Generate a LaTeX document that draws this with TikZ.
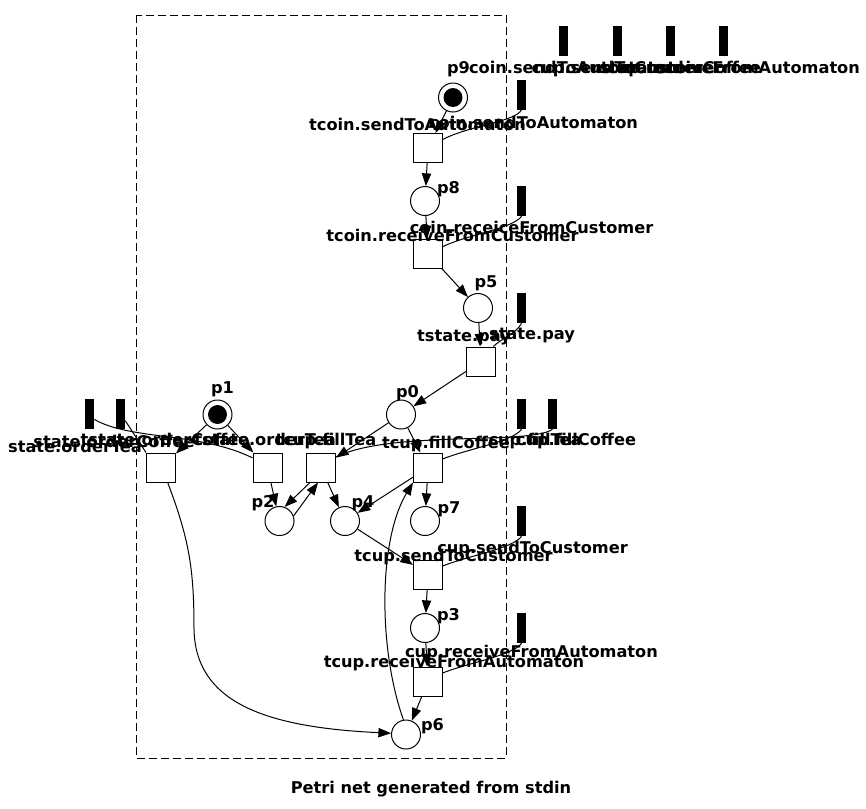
\documentclass[tikz,border=0pt]{standalone}
\usepackage{fontspec}
\setsansfont{DejaVu Sans}
\usetikzlibrary{arrows.meta}
\begin{document}
\begin{tikzpicture}[x=0.75pt,y=-0.75pt,
  place/.style={draw,circle,minimum size=21.75pt,inner sep=0pt,line width=0.75pt},
  trans/.style={draw,rectangle,minimum size=21.75pt,inner sep=0pt,line width=0.75pt},
  iface/.style={fill=black,minimum width=6.75pt,minimum height=22.5pt,inner sep=0pt},
  lbl/.style={font=\sffamily\bfseries\fontsize{12.15}{14}\selectfont,inner sep=0pt,anchor=base},
  arc/.style={line width=0.75pt,-{Triangle[length=9.5pt,width=7pt]}},
  link/.style={line width=0.75pt}]
\useasboundingbox (0,0) rectangle (866,808);
\draw[dash pattern=on 6pt off 3pt,line width=0.75pt] (136,15) rectangle (506,758);
% places
\node[place] (p9) at (453,97.5) {};
\node[place] (p8) at (425,201) {};
\node[place] (p5) at (478,308) {};
\node[place] (p0) at (401,414.5) {};
\node[place] (p1) at (217.5,414.5) {};
\node[place] (p2) at (279.5,521) {};
\node[place] (p4) at (345,521) {};
\node[place] (p7) at (425,521) {};
\node[place] (p3) at (425,628) {};
\node[place] (p6) at (406,734.5) {};
\fill (p9) circle[radius=7.1pt];
\fill (p1) circle[radius=7.1pt];
% transitions
\node[trans] (tcoinsend) at (428,148) {};
\node[trans] (tcoinrecv) at (428,253.5) {};
\node[trans] (tpay) at (481,361.5) {};
\node[trans] (tordercoffee) at (161,467.5) {};
\node[trans] (tordertea) at (267.5,467.5) {};
\node[trans] (tfilltea) at (321,467.5) {};
\node[trans] (tfillcoffee) at (428,467.5) {};
\node[trans] (tcupsend) at (428,574.5) {};
\node[trans] (tcuprecv) at (428,681.5) {};
% interface places
\node[iface] (bfree1) at (563.5,41) {};
\node[iface] (bfree2) at (617,41) {};
\node[iface] (bfree3) at (670.5,41) {};
\node[iface] (bfree4) at (723.5,41) {};
\node[iface] (bcoinsend) at (521.5,94.5) {};
\node[iface] (bcoinrecv) at (521.5,201) {};
\node[iface] (bpay) at (521.5,308) {};
\node[iface] (bfilltea) at (521.5,414) {};
\node[iface] (bfillcoffee) at (552.5,414) {};
\node[iface] (bcupsend) at (521.5,521) {};
\node[iface] (bcuprecv) at (521.5,628) {};
\node[iface] (bordertea) at (89.5,414) {};
\node[iface] (bordercoffee) at (120.5,414) {};
% arcs
\draw[arc] (p9) -- (tcoinsend);
\draw[arc] (tcoinsend) -- (p8);
\draw[arc] (p8) -- (tcoinrecv);
\draw[arc] (tcoinrecv) -- (p5);
\draw[arc] (p5) -- (tpay);
\draw[arc] (tpay) -- (p0);
\draw[arc] (p0) -- (tfilltea);
\draw[arc] (p0) -- (tfillcoffee);
\draw[arc] ([xshift=-8.25pt]tfilltea.south) -- (p2.70);
\draw[arc] (p2.20) -- ([xshift=-2.25pt]tfilltea.south);
\draw[arc] (tfilltea) -- (p4);
\draw[arc] (tfillcoffee) -- (p4);
\draw[arc] (tfillcoffee) -- (p7);
\draw[arc] (p6.100) .. controls +(-25,-70) and +(-35,58) .. (tfillcoffee.south west);
\draw[arc] ([xshift=5pt]tordercoffee.south) .. controls +(22,58) and +(0,-60) .. (194,630)
  .. controls +(2,70) and +(-131,-6) .. (p6.175);
\draw[arc] (tordertea) -- (p2);
\draw[arc] (p1) -- (tordercoffee);
\draw[arc] (p1) -- (tordertea);
\draw[arc] (p4) -- (tcupsend);
\draw[arc] (tcupsend) -- (p3);
\draw[arc] (p3) -- (tcuprecv);
\draw[arc] (tcuprecv) -- (p6);
% interface links
\draw[link] (bcoinsend.south) .. controls +(-6,12) and +(27,-14) .. (tcoinsend.30);
\draw[link] (bcoinrecv.south) .. controls +(-8,12) and +(25,-12) .. (tcoinrecv.25);
\draw[link] (bpay.south) .. controls +(-5,10) and +(8,-8) .. ([xshift=-2pt]tpay.north east);
\draw[link] (bfilltea.south) .. controls +(-8,12) and +(25,-10) .. (tfillcoffee.30);
\draw[link] (bfillcoffee.south) .. controls +(-22,16) and +(54,-27) .. (tfilltea.35);
\draw[link] (bcupsend.south) .. controls +(-8,12) and +(25,-10) .. (tcupsend.30);
\draw[link] (bcuprecv.south) .. controls +(-8,12) and +(25,-10) .. (tcuprecv.30);
\draw[link] ([yshift=-5pt]bordercoffee.east) -- (tordercoffee.north west);
\draw[link] ([yshift=-4pt]bordertea.east) .. controls +(36,21) and +(-53,-26) .. ([yshift=-4pt]tordertea.north west);
% labels
\node[lbl] (lp9) at (458.5,73) {p9};
\node[lbl] (lfree1) at (573.5,73) {coin.sendToAutomaton};
\node[lbl] (lfree2) at (627,73) {cup.sendToCustomer};
\node[lbl] (lfree3) at (680.5,73) {state.orderCoffee};
\node[lbl] (lfree4) at (733.5,73) {cup.receiveFromAutomaton};
\node[lbl] (ltcoinsend) at (417.5,130) {tcoin.sendToAutomaton};
\node[lbl] (lbcoinsend) at (533.5,128) {coin.sendToAutomaton};
\node[lbl] (lp8) at (448.5,193) {p8};
\node[lbl] (lbcoinrecv) at (531.5,233) {coin.receiceFromCustomer};
\node[lbl] (ltcoinrecv) at (452.5,241) {tcoin.receiveFromCustomer};
\node[lbl] (lp5) at (486,287) {p5};
\node[lbl] (ltpay) at (464,341) {tstate.pay};
\node[lbl] (lbpay) at (532,339) {state.pay};
\node[lbl] (lp0) at (407.5,397) {p0};
\node[lbl] (lp1) at (222.5,393) {p1};
\node[lbl] (lbordertea) at (75,452) {state.orderTea};
\node[lbl] (lbordercoffee) at (114,447) {state.orderCoffee};
\node[lbl] (ltordercoffee) at (165,445) {tstate.orderCoffee};
\node[lbl] (ltordertea) at (265,445) {tstate.orderTea};
\node[lbl] (ltfilltea) at (326,445) {tcup.fillTea};
\node[lbl] (ltfillcoffee) at (446,448) {tcup.fillCoffee};
\node[lbl] (lbfilltea) at (535,445) {cup.fillTea};
\node[lbl] (lbfillcoffee) at (576,445) {cup.fillCoffee};
\node[lbl] (lp2) at (263,507) {p2};
\node[lbl] (lp4) at (363,507) {p4};
\node[lbl] (lp7) at (449,513) {p7};
\node[lbl] (lbcupsend) at (532.5,553) {cup.sendToCustomer};
\node[lbl] (ltcupsend) at (453.5,561) {tcup.sendToCustomer};
\node[lbl] (lp3) at (448.5,620) {p3};
\node[lbl] (lbcuprecv) at (531.5,657) {cup.receiveFromAutomaton};
\node[lbl] (ltcuprecv) at (454,667) {tcup.receiveFromAutomaton};
\node[lbl] (lp6) at (432.5,730) {p6};
\node[lbl] (title) at (431,793) {Petri net generated from stdin};
\end{tikzpicture}
\end{document}
